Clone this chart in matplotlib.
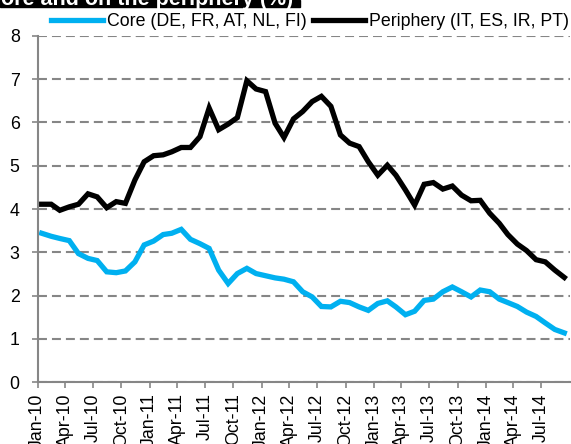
import numpy as np
import pandas as pd
import matplotlib
matplotlib.use('Agg')
import matplotlib.pyplot as plt
import matplotlib.dates as mdates
from matplotlib.patches import Rectangle

# monthly yields, Jan-10 .. Sep-14
dates = pd.date_range('2010-01-01', periods=57, freq='MS') + pd.Timedelta(days=13)

core = [3.44, 3.37, 3.32, 3.27, 2.97, 2.86, 2.81, 2.55, 2.53, 2.57,
        2.78, 3.17, 3.26, 3.41, 3.44, 3.53, 3.30, 3.20, 3.09, 2.59,
        2.28, 2.51, 2.63, 2.51, 2.46, 2.41, 2.38, 2.32, 2.09, 1.97,
        1.75, 1.74, 1.87, 1.84, 1.74, 1.66, 1.82, 1.88, 1.74, 1.56,
        1.64, 1.89, 1.92, 2.09, 2.20, 2.09, 1.97, 2.13, 2.09, 1.92,
        1.84, 1.75, 1.62, 1.52, 1.37, 1.22, 1.14]

periphery = [4.11, 4.11, 3.97, 4.05, 4.11, 4.35, 4.28, 4.03, 4.17, 4.13,
             4.67, 5.09, 5.23, 5.25, 5.32, 5.42, 5.42, 5.67, 6.33, 5.83,
             5.96, 6.11, 6.96, 6.77, 6.71, 5.98, 5.65, 6.08, 6.25, 6.48,
             6.60, 6.37, 5.71, 5.52, 5.44, 5.09, 4.78, 5.01, 4.78, 4.44,
             4.09, 4.57, 4.61, 4.46, 4.53, 4.32, 4.19, 4.20, 3.90, 3.67,
             3.41, 3.19, 3.04, 2.83, 2.78, 2.59, 2.42]

labels = ['Core (DE, FR, AT, NL, FI)', 'Periphery (IT, ES, IR, PT)']
title = 'ore and on the periphery (%)'

plt.rcParams['font.family'] = ['Liberation Sans', 'DejaVu Sans']
grey = '#868686'

fig = plt.figure(figsize=(5.71, 4.44), dpi=100)
ax = fig.add_axes([37.7/571, 61.7/444, (569.5-37.7)/571, (382.3-35.7)/444])

ax.plot(dates, core, color='#00B0F0', lw=3.8, label=labels[0], solid_joinstyle='miter')
ax.plot(dates, periphery, color='black', lw=3.8, label=labels[1], solid_joinstyle='miter')

ax.set_ylim(0, 8)
ax.set_yticks(range(0, 9))
ax.set_xlim(pd.Timestamp('2010-01-01'), pd.Timestamp('2014-10-01'))
ticks = pd.date_range('2010-01-01', '2014-07-01', freq='3MS')
ax.set_xticks(ticks)
ax.xaxis.set_major_formatter(mdates.DateFormatter('%b-%y'))
plt.setp(ax.get_xticklabels(), rotation=90, va='top', ha='center')

ax.yaxis.grid(True, color=grey, lw=1.5, linestyle=(0, (4.3, 2.4)))
ax.set_axisbelow(True)
for s in ['top', 'right']:
    ax.spines[s].set_visible(False)
for s in ['left', 'bottom']:
    ax.spines[s].set_color(grey)
    ax.spines[s].set_linewidth(1.5)
ax.tick_params(axis='both', colors=grey, labelcolor='black', labelsize=12.8, width=1.2, length=4)
ax.tick_params(axis='y', pad=9)
ax.tick_params(axis='x', pad=4)

fig.legend(loc='center', bbox_to_anchor=(310/571, 1 - 22/444), ncol=2, frameon=False,
           fontsize=12.8, handlelength=2.9, handletextpad=0.2, columnspacing=0.4,
           borderpad=0, borderaxespad=0)

# header bar, cut off at the top edge
fig.patches.append(Rectangle((0, 1 - 7/444), 300/571, 7/444, transform=fig.transFigure,
                             color='black', zorder=0))
fig.text(1/571, 1 - 5/444, title, color='white', fontsize=15.5, fontweight='bold',
         va='baseline', ha='left')

fig.savefig('out.png', dpi=100)
